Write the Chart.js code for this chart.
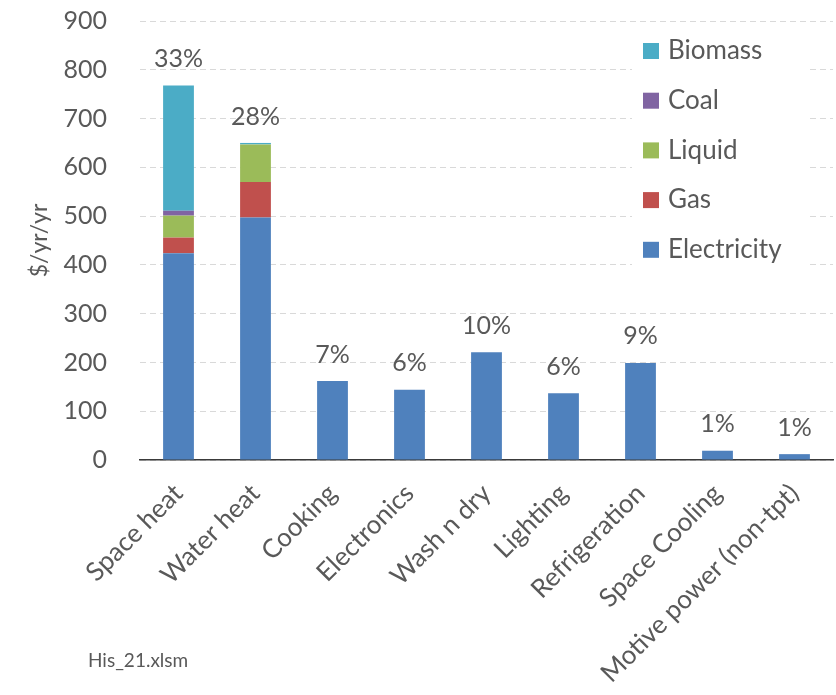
<!DOCTYPE html>
<html>
<head>
<meta charset="utf-8">
<script src="https://cdn.jsdelivr.net/npm/chart.js@4"></script>
<style>
  body { margin: 0; background: #fff; }
  #wrap { position: relative; width: 836px; height: 695px; }
  #note { position: absolute; left: 88px; top: 648px; font: 19px Lato, sans-serif; color: #595959; }
</style>
</head>
<body>
<div id="wrap">
  <canvas id="myChart" width="836" height="695"></canvas>
  <div id="note">His_21.xlsm</div>
</div>
<script>
const categories = ['Space heat', 'Water heat', 'Cooking', 'Electronics', 'Wash n dry',
                    'Lighting', 'Refrigeration', 'Space Cooling', 'Motive power (non-tpt)'];
const electricity = [424, 497, 162, 144, 221, 137, 199, 19, 12];
const gas         = [32, 73, 0, 0, 0, 0, 0, 0, 0];
const liquid      = [45, 77, 0, 0, 0, 0, 0, 0, 0];
const coal        = [10, 0, 0, 0, 0, 0, 0, 0, 0];
const biomass     = [257, 3, 0, 0, 0, 0, 0, 0, 0];
const shares      = ['33%', '28%', '7%', '6%', '10%', '6%', '9%', '1%', '1%'];
const yTicks      = [0, 100, 200, 300, 400, 500, 600, 700, 800, 900];

const txt = '#595959';
const fnt = 'Lato, "Open Sans", sans-serif';

var series = [
  {label: 'Electricity', data: electricity, color: '#4F81BD'},
  {label: 'Gas', data: gas, color: '#C0504D'},
  {label: 'Liquid', data: liquid, color: '#9BBB59'},
  {label: 'Coal', data: coal, color: '#8064A2'},
  {label: 'Biomass', data: biomass, color: '#4BACC6'}
];

// percent labels above each stack
const shareLabels = {
  id: 'shareLabels',
  afterDatasetsDraw(chart) {
    const ctx = chart.ctx;
    const y = chart.scales.y;
    const metaX = chart.getDatasetMeta(0);
    ctx.save();
    ctx.font = '25px ' + fnt;
    ctx.fillStyle = txt;
    ctx.textAlign = 'center';
    ctx.textBaseline = 'bottom';
    for (let i = 0; i < categories.length; i++) {
      let total = 0;
      series.forEach(s => total += s.data[i]);
      ctx.fillText(shares[i], metaX.data[i].x, y.getPixelForValue(total) - 14);
    }
    ctx.restore();
  }
};

// legend drawn inside the plot, biomass on top
const boxLegend = {
  id: 'boxLegend',
  afterDraw(chart) {
    const ctx = chart.ctx;
    ctx.save();
    ctx.fillStyle = '#fff';
    ctx.fillRect(632, 28, 176, 245);
    ctx.font = '26px ' + fnt;
    ctx.textBaseline = 'middle';
    ctx.textAlign = 'left';
    const order = series.slice().reverse();
    for (let i = 0; i < order.length; i++) {
      const cy = 50 + i * 49.7;
      ctx.fillStyle = order[i].color;
      ctx.fillRect(643, cy - 7, 16, 16);
      ctx.fillStyle = txt;
      ctx.fillText(order[i].label, 668, cy + 1);
    }
    ctx.restore();
  }
};

const ctx = document.getElementById('myChart');
new Chart(ctx, {
  type: 'bar',
  data: {
    labels: categories,
    datasets: series.map(s => ({
      label: s.label,
      data: s.data,
      backgroundColor: s.color,
      borderWidth: 0,
      barPercentage: 0.4,
      categoryPercentage: 1
    }))
  },
  options: {
    responsive: false,
    animation: false,
    layout: { padding: { top: 21, right: 3, left: 26, bottom: 0 } },
    plugins: {
      legend: { display: false },
      tooltip: { enabled: false }
    },
    scales: {
      x: {
        stacked: true,
        grid: { display: false, drawTicks: false },
        border: { display: true, color: '#3a3a3a', width: 1.5 },
        ticks: {
          color: txt,
          font: { family: fnt, size: 26 },
          minRotation: 45,
          maxRotation: 45,
          autoSkip: false,
          padding: 18
        },
        afterFit: function(scale) { scale.height = 235; }
      },
      y: {
        stacked: true,
        min: 0,
        max: 900,
        afterBuildTicks: function(scale) { scale.ticks = yTicks.map(v => ({value: v})); },
        grid: { color: '#d9d9d9', drawTicks: false },
        border: { display: false, dash: [6, 4] },
        ticks: {
          color: txt,
          font: { family: fnt, size: 25 },
          padding: 33
        },
        title: {
          display: true,
          text: '$/yr/yr',
          color: txt,
          font: { family: fnt, size: 23 },
          padding: 0
        },
        afterFit: function(scale) {
          scale.width = 114;
          scale.paddingTop = 0;
          scale.paddingBottom = 0;
        }
      }
    }
  },
  plugins: [shareLabels, boxLegend]
});
</script>
</body>
</html>
